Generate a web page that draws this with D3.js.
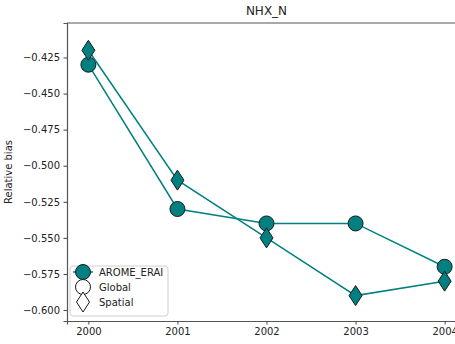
<!DOCTYPE html>
<html>
<head>
<meta charset="utf-8">
<script src="https://cdn.jsdelivr.net/npm/d3@7"></script>
<style>
  body { margin: 0; background: #fff; }
  svg { display: block; font-family: "DejaVu Sans", sans-serif; }
</style>
</head>
<body>
<svg id="chart"></svg>
<script>
// values
var years = [2000, 2001, 2002, 2003, 2004]
var globalBias = [-0.43, -0.53, -0.54, -0.54, -0.57]
var spatialBias = [-0.42, -0.51, -0.55, -0.59, -0.58]
var yTicks = [-0.425, -0.45, -0.475, -0.5, -0.525, -0.55, -0.575, -0.6]
var legendLabels = ["AROME_ERAI", "Global", "Spatial"]

var width = 455
var height = 344
var margin = ({top: 23, right: -11, bottom: 23, left: 67})
var teal = "#008080"

var x = d3.scaleLinear()
  .domain([1999.76, 2004.24])
  .range([margin.left, width - margin.right])
var y = d3.scaleLinear()
  .domain([-0.6076, -0.4011])
  .range([height - margin.bottom, margin.top])

var svg = d3.select("#chart")
  .attr("width", width)
  .attr("height", height)

var diamond = "M0,-10L6.5,0L0,10L-6.5,0Z"

var xAxis = g => g
  .attr("transform", `translate(0,${height - margin.bottom})`)
  .call(d3.axisBottom(x).tickValues(years).tickFormat(d3.format("d")).tickSize(3.5).tickPadding(3.5))
var yAxis = g => g
  .attr("transform", `translate(${margin.left},0)`)
  .call(d3.axisLeft(y).tickValues(yTicks).tickFormat(d3.format(".3f")).tickSize(3.5).tickPadding(3.5))

function styleAxis(g) {
  g.select(".domain").attr("stroke", "#555").attr("stroke-width", 1.2)
  g.selectAll(".tick line").attr("stroke", "#444")
  g.selectAll(".tick text").attr("fill", "#222").attr("font-size", 10)
    .attr("font-family", "DejaVu Sans")
}

svg.append("g").call(xAxis).call(styleAxis)
svg.append("g").call(yAxis).call(styleAxis)

// top spine
svg.append("line")
  .attr("x1", margin.left).attr("x2", width)
  .attr("y1", margin.top).attr("y2", margin.top)
  .attr("stroke", "#555").attr("stroke-width", 1.2)

var line = d3.line()
  .x((d, i) => x(years[i]))
  .y(d => y(d))

// Global series
svg.append("path")
  .datum(globalBias)
  .attr("fill", "none")
  .attr("stroke", teal)
  .attr("stroke-width", 1.5)
  .attr("d", line)
svg.append("g").selectAll("circle")
  .data(globalBias)
  .join("circle")
  .attr("cx", (d, i) => x(years[i]))
  .attr("cy", d => y(d))
  .attr("r", 7.5)
  .attr("fill", teal)
  .attr("stroke", "#1a1a1a")
  .attr("stroke-width", 1)

// Spatial series
svg.append("path")
  .datum(spatialBias)
  .attr("fill", "none")
  .attr("stroke", teal)
  .attr("stroke-width", 1.5)
  .attr("d", line)
svg.append("g").selectAll("path")
  .data(spatialBias)
  .join("path")
  .attr("transform", (d, i) => `translate(${x(years[i])},${y(d)})`)
  .attr("d", diamond)
  .attr("fill", teal)
  .attr("stroke", "#1a1a1a")
  .attr("stroke-width", 1)

// title
svg.append("text")
  .attr("x", (margin.left + width - margin.right) / 2)
  .attr("y", 15)
  .attr("text-anchor", "middle")
  .attr("font-size", 12)
  .attr("fill", "#222")
  .text("NHX_N")

// y label
svg.append("text")
  .attr("transform", `translate(12,${(margin.top + height - margin.bottom) / 2}) rotate(-90)`)
  .attr("text-anchor", "middle")
  .attr("font-size", 10)
  .attr("fill", "#222")
  .text("Relative bias")

// legend
var lg = svg.append("g").attr("transform", "translate(70,266)")
lg.append("rect")
  .attr("width", 98).attr("height", 50)
  .attr("rx", 3)
  .attr("fill", "#fff").attr("fill-opacity", 0.8)
  .attr("stroke", "#d0d0d0")

var rows = lg.selectAll("g.row")
  .data(legendLabels)
  .join("g")
  .attr("class", "row")
  .attr("transform", (d, i) => `translate(0,${6 + i * 15})`)

rows.append("text")
  .attr("x", 29)
  .attr("dy", "0.35em")
  .attr("font-size", 10)
  .attr("fill", "#222")
  .text(d => d)

var first = lg.select("g.row")
first.insert("line", "text")
  .attr("x1", 3).attr("x2", 23)
  .attr("stroke", teal).attr("stroke-width", 1.5)
first.insert("circle", "text")
  .attr("cx", 13).attr("r", 7.5)
  .attr("fill", teal).attr("stroke", "#1a1a1a")

d3.select(rows.nodes()[1]).insert("circle", "text")
  .attr("cx", 13).attr("r", 7.5)
  .attr("fill", "#fff").attr("stroke", "#1a1a1a")

d3.select(rows.nodes()[2]).insert("path", "text")
  .attr("transform", "translate(13,0)")
  .attr("d", diamond)
  .attr("fill", "#fff").attr("stroke", "#1a1a1a")
</script>
</body>
</html>
